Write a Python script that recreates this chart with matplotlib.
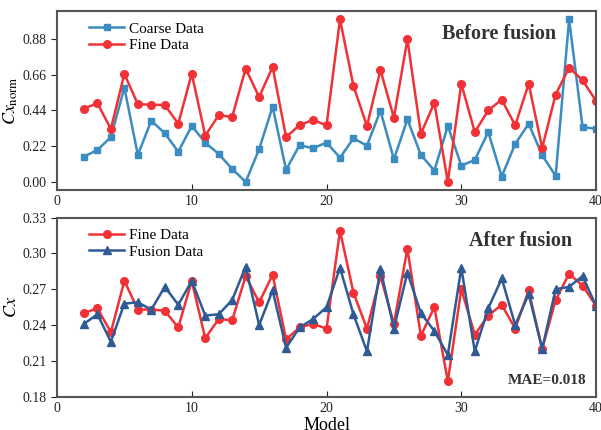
import numpy as np
import matplotlib
matplotlib.use('Agg')
import matplotlib.pyplot as plt

plt.rcParams['font.family'] = ['Liberation Serif', 'DejaVu Serif']
plt.rcParams['mathtext.fontset'] = 'stix'

# model index
model = list(range(2, 41))

# before fusion (normalised Cx)
coarse_norm = [0.155, 0.197, 0.275, 0.580, 0.166, 0.377, 0.299, 0.186, 0.344, 0.242,
               0.172, 0.080, 0.000, 0.201, 0.463, 0.074, 0.227, 0.207, 0.242, 0.149,
               0.268, 0.223, 0.438, 0.139, 0.385, 0.166, 0.070, 0.344, 0.100, 0.135,
               0.307, 0.033, 0.234, 0.358, 0.164, 0.037, 1.000, 0.338, 0.326]
fine_norm = [0.451, 0.484, 0.326, 0.664, 0.478, 0.475, 0.473, 0.358, 0.666, 0.285,
             0.410, 0.400, 0.697, 0.522, 0.707, 0.275, 0.350, 0.381, 0.348, 1.000,
             0.590, 0.344, 0.688, 0.395, 0.877, 0.297, 0.486, 0.000, 0.604, 0.307,
             0.440, 0.506, 0.348, 0.604, 0.209, 0.537, 0.703, 0.625, 0.498]

# after fusion (Cx)
fine_cx = [0.250, 0.254, 0.234, 0.277, 0.253, 0.253, 0.252, 0.238, 0.277, 0.229,
           0.245, 0.244, 0.281, 0.259, 0.282, 0.228, 0.238, 0.241, 0.237, 0.319,
           0.267, 0.237, 0.281, 0.241, 0.304, 0.231, 0.255, 0.193, 0.270, 0.232,
           0.248, 0.257, 0.237, 0.269, 0.220, 0.261, 0.283, 0.273, 0.256]
fusion_cx = [0.241, 0.249, 0.226, 0.258, 0.259, 0.253, 0.272, 0.257, 0.277, 0.248,
             0.249, 0.261, 0.289, 0.240, 0.269, 0.221, 0.238, 0.245, 0.255, 0.288,
             0.249, 0.218, 0.287, 0.237, 0.284, 0.250, 0.235, 0.215, 0.288, 0.218,
             0.254, 0.279, 0.240, 0.266, 0.220, 0.270, 0.272, 0.281, 0.256]

c_coarse = '#3a8cc1'
c_fine = '#f03237'
c_fusion = '#2f5b95'
c_spine = '#555555'

fig = plt.figure(figsize=(6.01, 4.30), dpi=100)
ax1 = fig.add_axes([0.0948, 0.558, 0.897, 0.416])
ax2 = fig.add_axes([0.0948, 0.0774, 0.897, 0.4166])

ax1.plot(model, coarse_norm, color=c_coarse, marker='s', ms=5, lw=1.8, label='Coarse Data')
ax1.plot(model, fine_norm, color=c_fine, marker='o', ms=5.5, lw=1.8, label='Fine Data')
ax1.set_ylim(-0.05, 1.05)
ax1.set_yticks([0.0, 0.22, 0.44, 0.66, 0.88])
ax1.set_yticklabels(['0.00', '0.22', '0.44', '0.66', '0.88'])
ax1.set_ylabel(r'$Cx_{\mathrm{norm}}$', fontsize=13, labelpad=2)
ax1.text(0.925, 0.87, 'Before fusion', transform=ax1.transAxes, fontsize=14.5,
         fontweight='bold', color='#333333', ha='right', va='center')

ax2.plot(model, fine_cx, color=c_fine, marker='o', ms=5.5, lw=1.8, label='Fine Data')
ax2.plot(model, fusion_cx, color=c_fusion, marker='^', ms=5.5, lw=1.8, label='Fusion Data')
ax2.set_ylim(0.18, 0.33)
ax2.set_yticks([0.18, 0.21, 0.24, 0.27, 0.30, 0.33])
ax2.set_ylabel(r'$Cx$', fontsize=13, labelpad=2)
ax2.set_xlabel('Model', fontsize=13, labelpad=2)
ax2.text(0.955, 0.87, 'After fusion', transform=ax2.transAxes, fontsize=14.5,
         fontweight='bold', color='#333333', ha='right', va='center')
ax2.text(0.982, 0.09, 'MAE=0.018', transform=ax2.transAxes, fontsize=11,
         fontweight='bold', color='#333333', ha='right', va='center')

for ax in [ax1, ax2]:
    ax.set_xlim(0, 40)
    ax.set_xticks([0, 10, 20, 30, 40])
    ax.tick_params(axis='x', direction='in', length=4, labelsize=10, colors='#222222')
    ax.tick_params(axis='y', direction='out', length=4, labelsize=10, colors='#222222')
    for s in ax.spines.values():
        s.set_color(c_spine)
        s.set_linewidth(1.5)
    ax.legend(loc='upper left', bbox_to_anchor=(0.04, 1.0), frameon=False,
              fontsize=11, handlelength=2.3, handletextpad=0.3, labelspacing=0.2,
              borderaxespad=0.3)

fig.savefig('out.png', dpi=100)
